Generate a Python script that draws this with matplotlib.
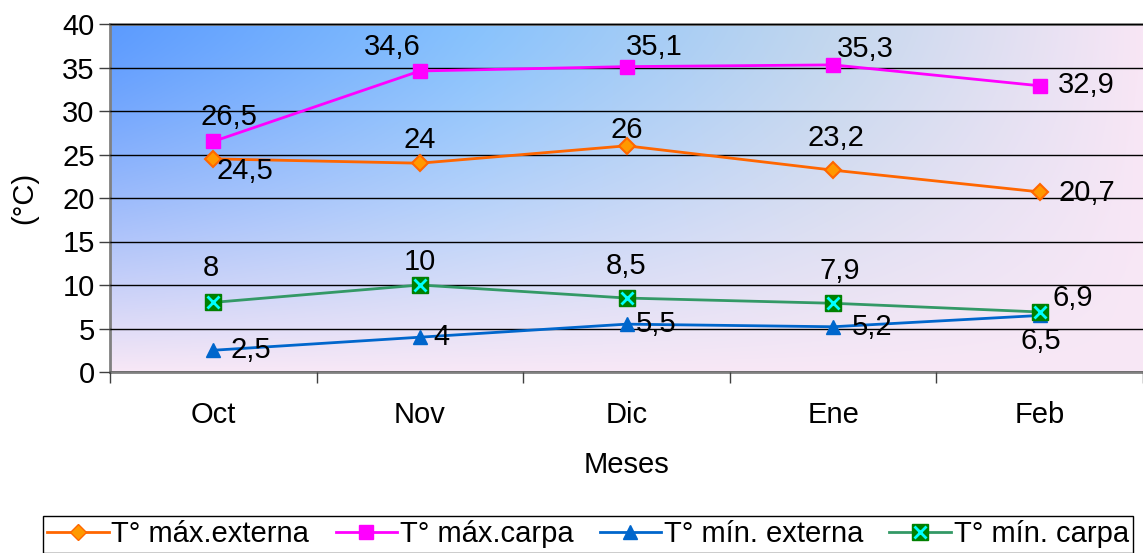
import numpy as np
import matplotlib
matplotlib.use("Agg")
import matplotlib.pyplot as plt
from matplotlib.lines import Line2D

plt.rcParams['font.family'] = ['Liberation Sans', 'DejaVu Sans']

months = ["Oct", "Nov", "Dic", "Ene", "Feb"]
tmax_ext = [24.5, 24, 26, 23.2, 20.7]
tmax_carpa = [26.5, 34.6, 35.1, 35.3, 32.9]
tmin_ext = [2.5, 4, 5.5, 5.2, 6.5]
tmin_carpa = [8, 10, 8.5, 7.9, 6.9]
series_names = ["T° máx.externa", "T° máx.carpa", "T° mín. externa", "T° mín. carpa"]
yticks = [0, 5, 10, 15, 20, 25, 30, 35, 40]

def fmt(v):
    return ("%g" % v).replace(".", ",")

W, H = 1143, 553
FS = 21
fig = plt.figure(figsize=(W / 100, H / 100), dpi=100)
ax = fig.add_axes([110 / W, (H - 372) / H, 1 - 110 / W, (372 - 24) / H])

# gradient background
nx, ny = 400, 200
u = np.linspace(0, 1, nx)
v = np.linspace(0, 1, ny)
stops_u = [0.0, 0.35, 0.7, 1.0]
stops_c = np.array([[92, 155, 255], [135, 194, 253], [195, 215, 238], [248, 230, 245]]) / 255
top = np.stack([np.interp(u, stops_u, stops_c[:, k]) for k in range(3)], axis=-1)
P = np.array([248, 232, 246]) / 255
g = (v ** 1.3)[:, None, None]
img = top[None, :, :] + g * (P[None, None, :] - top[None, :, :])
ax.imshow(img, extent=[0, 1, 0, 1], transform=ax.transAxes, aspect='auto',
          zorder=0, interpolation='bilinear', origin='upper')

x = np.arange(len(months))
lw = 2
ax.plot(x, tmax_ext, color='#FF6600', lw=lw, marker='D', ms=8,
        mfc='#FF9900', mec='#FF6600', mew=1.5, zorder=3)
ax.plot(x, tmax_carpa, color='#FF00FF', lw=lw, marker='s', ms=10,
        mfc='#FF00FF', mec='#FF00FF', zorder=3)
ax.plot(x, tmin_ext, color='#0066CC', lw=lw, marker='^', ms=10,
        mfc='#0066CC', mec='#0066CC', zorder=3)
ax.plot(x, tmin_carpa, color='#339966', lw=lw, zorder=3)
ax.plot(x, tmin_carpa, ls='none', marker='s', ms=11, mfc='#008000',
        mec='#008000', zorder=4)
ax.plot(x, tmin_carpa, ls='none', marker='x', ms=9, mec='#00FFFF', mew=2, zorder=5)

# label offsets in pixels (dx, dy up-positive)
off_max_ext = [(32, -12), (0, 23), (0, 16), (3, 32), (47, -1)]
off_max_carpa = [(16, 24), (-28, 24), (28, 20), (32, 16), (47, 1)]
off_min_ext = [(38, 0), (22, 0), (30, 0), (39, 0), (1, -26)]
off_min_carpa = [(-2, 34), (0, 23), (0, 32), (7, 32), (33, 14)]

for vals, offs in [(tmax_ext, off_max_ext), (tmax_carpa, off_max_carpa),
                   (tmin_ext, off_min_ext), (tmin_carpa, off_min_carpa)]:
    for xi, val, (dx, dy) in zip(x, vals, offs):
        ax.annotate(fmt(val), (xi, val), xytext=(dx, dy), textcoords='offset pixels',
                    ha='center', va='center', fontsize=FS, zorder=6,
                    annotation_clip=False)

ax.set_xlim(-0.5, -0.5 + (W - 110) / 208.25)
ax.set_ylim(0, 40)
ax.set_yticks(yticks)
ax.set_yticklabels([str(t) for t in yticks], fontsize=FS)
ax.set_xticks(x)
ax.set_xticklabels(months, fontsize=FS)
ax.tick_params(axis='x', length=0, pad=21)
ax.set_xticks(np.arange(-0.5, 5, 1), minor=True)
ax.tick_params(axis='x', which='minor', length=8, width=1, color='#404040')
ax.tick_params(axis='y', length=8, width=1, color='#404040', pad=3)
ax.grid(axis='y', color='#000000', lw=1, zorder=1)
ax.set_axisbelow(False)
for gl in ax.get_ygridlines():
    gl.set_zorder(1)
for s in ['top', 'bottom', 'left']:
    ax.spines[s].set_color('#808080')
    ax.spines[s].set_linewidth(2)
ax.spines['right'].set_visible(False)

ax.set_xlabel("Meses", fontsize=FS, labelpad=16)
ax.set_ylabel("(°C)", fontsize=FS, labelpad=17)

handles = [
    Line2D([], [], color='#FF6600', lw=lw, marker='D', ms=8, mfc='#FF9900', mec='#FF6600'),
    Line2D([], [], color='#FF00FF', lw=lw, marker='s', ms=10, mfc='#FF00FF', mec='#FF00FF'),
    Line2D([], [], color='#0066CC', lw=lw, marker='^', ms=10, mfc='#0066CC', mec='#0066CC'),
    (Line2D([], [], color='#339966', lw=lw, marker='s', ms=11, mfc='#008000', mec='#008000'),
     Line2D([], [], ls='none', marker='x', ms=9, mec='#00FFFF', mew=2)),
]
leg = fig.legend(handles, series_names, loc='upper center',
                 bbox_to_anchor=(588 / W, 1 - 516 / H), ncol=4, fontsize=21,
                 frameon=True, fancybox=False, edgecolor='black', framealpha=1,
                 handlelength=2.1, handletextpad=0.1, columnspacing=0.9,
                 borderpad=0.15, borderaxespad=0)
leg.get_frame().set_linewidth(1)

fig.savefig("out.png", dpi=100)
